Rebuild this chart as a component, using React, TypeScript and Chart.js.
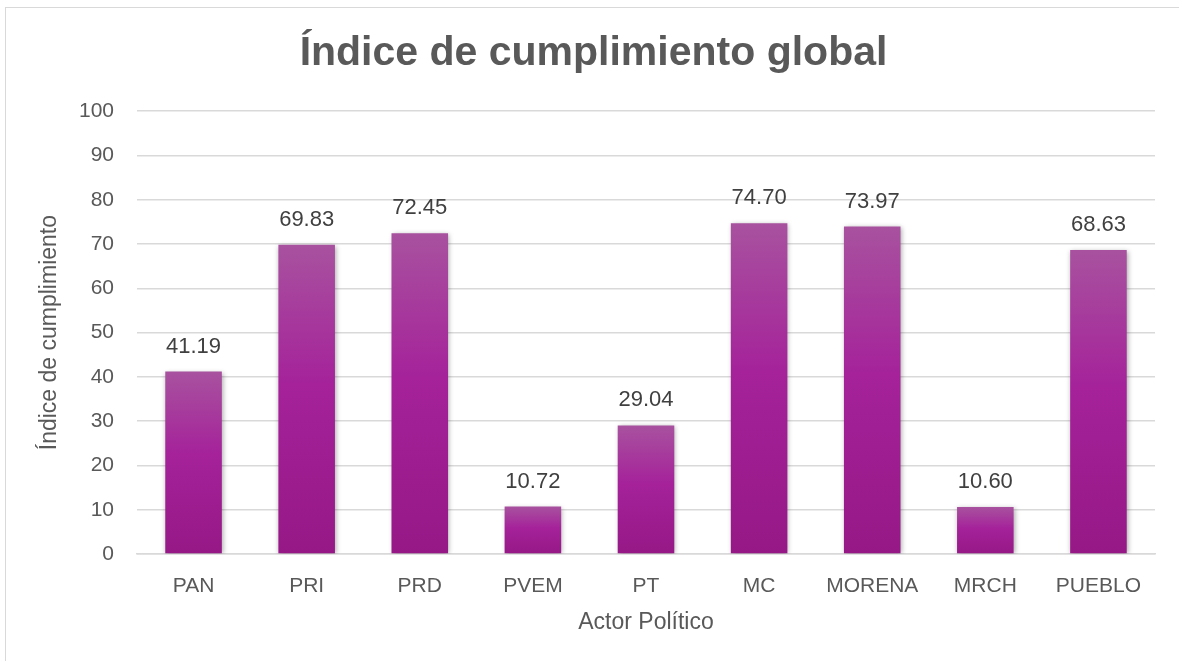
import React, { useEffect, useRef } from "react";
import { Chart, registerables } from "chart.js";

Chart.register(...registerables);

const categories = ["PAN", "PRI", "PRD", "PVEM", "PT", "MC", "MORENA", "MRCH", "PUEBLO"];
const values = [41.19, 69.83, 72.45, 10.72, 29.04, 74.7, 73.97, 10.6, 68.63];
const chartTitle = "Índice de cumplimiento global";
const xTitle = "Actor Político";
const yTitle = "Índice de cumplimiento";

const FONT = "'Liberation Sans', Arial, sans-serif";

const shadowPlugin = {
  id: "barShadow",
  beforeDatasetsDraw(chart: any) {
    const ctx = chart.ctx;
    ctx.save();
    ctx.shadowColor = "rgba(0,0,0,0.35)";
    ctx.shadowBlur = 5;
    ctx.shadowOffsetX = 1;
    ctx.shadowOffsetY = 1;
  },
  afterDatasetsDraw(chart: any) {
    chart.ctx.restore();
  },
};

const labelPlugin = {
  id: "valueLabels",
  afterDraw(chart: any) {
    const ctx = chart.ctx;
    const meta = chart.getDatasetMeta(0);
    ctx.save();
    ctx.font = `22px ${FONT}`;
    ctx.fillStyle = "#404040";
    ctx.textAlign = "center";
    ctx.textBaseline = "middle";
    meta.data.forEach((el: any, i: number) => {
      ctx.fillText(values[i].toFixed(2), el.x, el.y - 25);
    });
    ctx.restore();
  },
};

export default function App() {
  const ref = useRef<HTMLCanvasElement>(null);
  useEffect(() => {
    const canvas = ref.current!;
    const chart = new Chart(canvas, {
      type: "bar",
      data: {
        labels: categories,
        datasets: [
          {
            data: values,
            borderWidth: 0,
            categoryPercentage: 1,
            barPercentage: 0.5,
            backgroundColor: (c: any) => {
              const ch = c.chart;
              const ys = ch.scales?.y;
              if (!ys || c.raw === undefined) return "#a3219a";
              const top = ys.getPixelForValue(c.raw);
              const bottom = ys.getPixelForValue(0);
              if (!isFinite(top) || !isFinite(bottom) || top === bottom) return "#a3219a";
              const g = ch.ctx.createLinearGradient(0, top, 0, bottom);
              g.addColorStop(0, "#a8529f");
              g.addColorStop(0.45, "#a5229a");
              g.addColorStop(1, "#961886");
              return g;
            },
          },
        ],
      },
      options: {
        animation: false,
        responsive: false,
        maintainAspectRatio: false,
        layout: { padding: { top: 10, left: 32, right: 24, bottom: 21 } },
        plugins: {
          legend: { display: false },
          tooltip: { enabled: false },
          title: {
            display: true,
            text: chartTitle,
            color: "#595959",
            font: { family: FONT, size: 41, weight: "bold" },
            padding: { top: 19, bottom: 33 },
          },
        },
        scales: {
          x: {
            grid: { display: false, drawTicks: false },
            border: { display: true, color: "#d9d9d9", width: 1.5 },
            ticks: { color: "#595959", font: { family: FONT, size: 21 }, padding: 20 },
            title: {
              display: true,
              text: xTitle,
              color: "#595959",
              font: { family: FONT, size: 23 },
              padding: { top: 4, bottom: 4 },
            },
            afterFit: (s: any) => {
              s.height = 86;
            },
          },
          y: {
            min: 0,
            max: 100,
            ticks: { stepSize: 10, color: "#595959", font: { family: FONT, size: 21 }, padding: 23 },
            grid: { color: "#d9d9d9", lineWidth: 1.5, drawTicks: false },
            border: { display: false },
            title: {
              display: true,
              text: yTitle,
              color: "#595959",
              font: { family: FONT, size: 23 },
              padding: { top: 4, bottom: 4 },
            },
            afterFit: (s: any) => {
              s.width = 105;
            },
          },
        },
      },
      plugins: [shadowPlugin, labelPlugin],
    });
    return () => chart.destroy();
  }, []);

  return (
    <div style={{ position: "fixed", left: 0, top: 0, width: 1179, height: 661, background: "#fff", overflow: "hidden" }}>
      <div
        style={{
          position: "absolute",
          left: 5,
          top: 7,
          width: 1200,
          height: 700,
          borderTop: "1.5px solid #d9d9d9",
          borderLeft: "1.5px solid #d9d9d9",
          boxSizing: "border-box",
        }}
      />
      <canvas ref={ref} width={1179} height={661} style={{ position: "absolute", left: 0, top: 0 }} />
    </div>
  );
}
